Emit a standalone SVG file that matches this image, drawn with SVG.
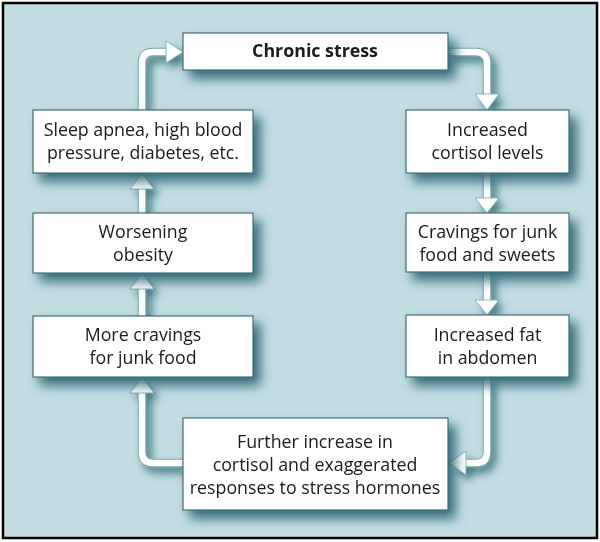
<svg xmlns="http://www.w3.org/2000/svg" width="600" height="542" viewBox="0 0 600 542">
<defs>
<filter id="sh" x="-20%" y="-30%" width="160%" height="190%">
<feDropShadow dx="7" dy="8" stdDeviation="6" flood-color="#23606c" flood-opacity="0.9"/>
</filter>
<filter id="sha" x="-30%" y="-30%" width="180%" height="180%">
<feDropShadow dx="5" dy="6" stdDeviation="4" flood-color="#23606c" flood-opacity="0.8"/>
</filter>
<style>
.box{fill:#ffffff;stroke:#3f6f76;stroke-width:1.2}
.t{font-family:"Open Sans","Liberation Sans",sans-serif;font-size:17.8px;fill:#1a1a1a;text-anchor:middle}
.b{font-weight:bold}
.lo{fill:none;stroke:#7aa3a9;stroke-width:8.5}
.li{fill:none;stroke:#ffffff;stroke-width:6.5}
.hd{fill:#ffffff;stroke:#7aa3a9;stroke-width:0.8;stroke-linejoin:miter}
</style>
</defs>
<rect x="0" y="0" width="600" height="542" fill="#ffffff"/>
<rect x="3" y="3" width="594" height="535" fill="#c3dde3" stroke="#000000" stroke-width="2.5"/>
<g id="connectors" filter="url(#sha)">
<path class="lo" d="M142,111 V63 Q142,52 153,52 H167"/>
<path class="lo" d="M447,52 H476 Q487,52 487,63 V94"/>
<path class="lo" d="M487,172 V198"/>
<path class="lo" d="M487,271 V300"/>
<path class="lo" d="M487,376 V452 Q487,463 476,463 H466"/>
<path class="lo" d="M184,463 H153 Q142,463 142,452 V392"/>
<path class="lo" d="M142,317 V288"/>
<path class="lo" d="M142,214 V188"/>
<path class="li" d="M142,111 V63 Q142,52 153,52 H168"/>
<path class="li" d="M447,52 H476 Q487,52 487,63 V95"/>
<path class="li" d="M487,172 V199"/>
<path class="li" d="M487,271 V301"/>
<path class="li" d="M487,376 V452 Q487,463 476,463 H465"/>
<path class="li" d="M184,463 H153 Q142,463 142,452 V391"/>
<path class="li" d="M142,317 V287"/>
<path class="li" d="M142,214 V187"/>
<polygon class="hd" points="166,41 183,52 166,63"/>
<polygon class="hd" points="475,94 499,94 487,110"/>
<polygon class="hd" points="475,198 499,198 487,213"/>
<polygon class="hd" points="475,300 499,300 487,315"/>
<polygon class="hd" points="466,451 466,475 449,463"/>
<polygon class="hd" points="130,393 154,393 142,377"/>
<polygon class="hd" points="130,289 154,289 142,273"/>
<polygon class="hd" points="130,189 154,189 142,173"/>
</g>
<g id="n-chronic" filter="url(#sh)">
<rect class="box" x="183" y="33" width="265" height="37"/>
<text class="t b" x="315" y="57">Chronic stress</text>
</g>
<g id="n-cortisol" filter="url(#sh)">
<rect class="box" x="406" y="110" width="163" height="63"/>
<text class="t" x="487.5" y="136">Increased</text>
<text class="t" x="487.5" y="159">cortisol levels</text>
</g>
<g id="n-cravings" filter="url(#sh)">
<rect class="box" x="406" y="213" width="163" height="59"/>
<text class="t" x="487.5" y="238">Cravings for junk</text>
<text class="t" x="487.5" y="261">food and sweets</text>
</g>
<g id="n-fat" filter="url(#sh)">
<rect class="box" x="406" y="315" width="163" height="62"/>
<text class="t" x="487.5" y="341">Increased fat</text>
<text class="t" x="487.5" y="364">in abdomen</text>
</g>
<g id="n-further" filter="url(#sh)">
<rect class="box" x="183" y="418" width="265" height="92"/>
<text class="t" x="315" y="448">Further increase in</text>
<text class="t" x="315" y="471">cortisol and exaggerated</text>
<text class="t" x="315" y="494">responses to stress hormones</text>
</g>
<g id="n-more" filter="url(#sh)">
<rect class="box" x="33" y="316" width="220" height="61"/>
<text class="t" x="143" y="341">More cravings</text>
<text class="t" x="143" y="364">for junk food</text>
</g>
<g id="n-obesity" filter="url(#sh)">
<rect class="box" x="33" y="213" width="220" height="60"/>
<text class="t" x="143" y="238">Worsening</text>
<text class="t" x="143" y="261">obesity</text>
</g>
<g id="n-sleep" filter="url(#sh)">
<rect class="box" x="33" y="110" width="220" height="63"/>
<text class="t" x="143" y="136">Sleep apnea, high blood</text>
<text class="t" x="143" y="159">pressure, diabetes, etc.</text>
</g>
</svg>
